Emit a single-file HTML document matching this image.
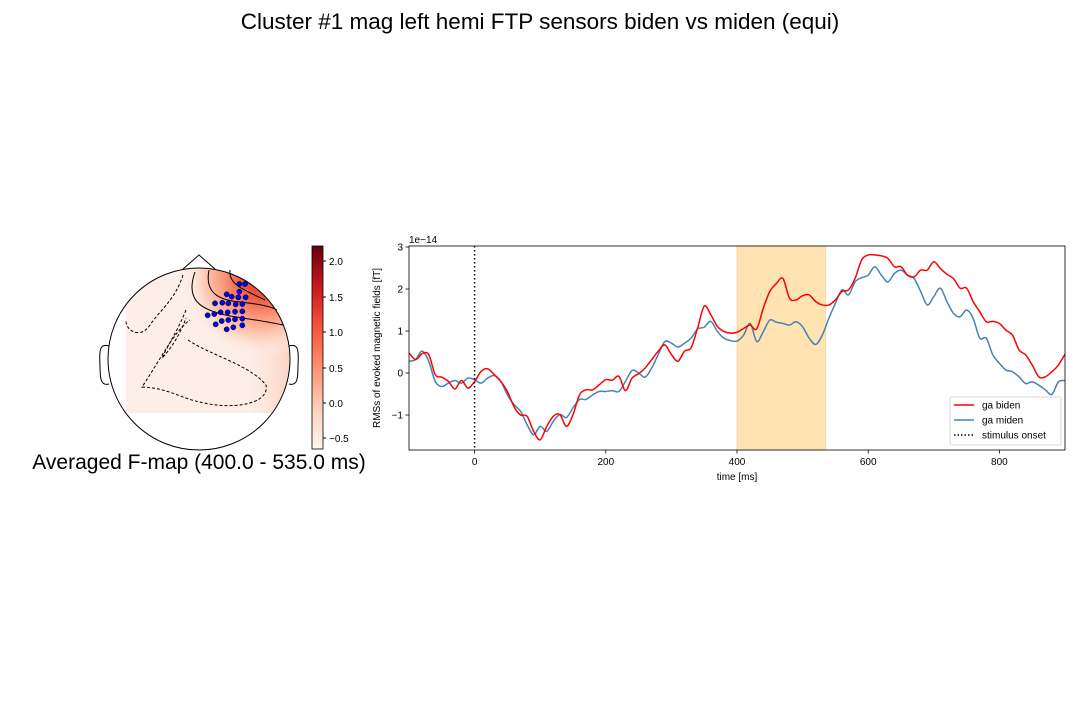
<!DOCTYPE html>
<html><head><meta charset="utf-8"><style>
body{margin:0;background:#fff;width:1080px;height:720px;overflow:hidden;font-family:"Liberation Sans","DejaVu Sans",sans-serif}
svg{position:absolute;left:0;top:0}
</style></head><body>
<svg width="1080" height="720" viewBox="0 0 1080 720">
<defs>
<clipPath id="headclip"><circle cx="199" cy="359" r="91"/></clipPath>
<radialGradient id="hot" cx="262" cy="278" r="80" gradientUnits="userSpaceOnUse">
<stop offset="0" stop-color="#e0302a"/><stop offset="0.25" stop-color="#f05a40"/><stop offset="0.5" stop-color="#fb9a7c"/><stop offset="0.75" stop-color="#fdd2bf"/><stop offset="1" stop-color="#fff1ea" stop-opacity="0"/>
</radialGradient>
<linearGradient id="side" x1="0" y1="0" x2="1" y2="0">
<stop offset="0" stop-color="#fdd5c4" stop-opacity="0"/><stop offset="1" stop-color="#fcc5ae" stop-opacity="0.8"/>
</linearGradient>
<linearGradient id="cbar" x1="0" y1="1" x2="0" y2="0">
<stop offset="0" stop-color="#fff5f0"/><stop offset="0.2" stop-color="#fdd0bc"/><stop offset="0.4" stop-color="#fc9272"/><stop offset="0.6" stop-color="#f6553c"/><stop offset="0.8" stop-color="#c9181d"/><stop offset="1" stop-color="#67000d"/>
</linearGradient>
<clipPath id="plotclip"><rect x="409" y="246" width="656" height="204"/></clipPath>
</defs>
<text x="540" y="29" font-size="22.5" text-anchor="middle" fill="#000">Cluster #1 mag left hemi FTP sensors biden vs miden (equi)</text>

<g>
<g clip-path="url(#headclip)">
<rect x="126" y="266" width="170" height="147" fill="#fdeee8"/>
<rect x="250" y="300" width="46" height="113" fill="url(#side)"/>
<rect x="126" y="266" width="170" height="147" fill="url(#hot)"/>
</g>
<path d="M209,270 C205,290 215,300 240,302 C258,304 270,306 277,310" fill="none" stroke="#000" stroke-width="1"/>
<path d="M195,272 C185,300 200,310 230,316 C255,320 270,322 283,325" fill="none" stroke="#000" stroke-width="1"/>
<path d="M230,270 C228,285 245,290 265,300" fill="none" stroke="#000" stroke-width="1"/>
<path d="M188,340 C210,355 250,365 266,385 C270,405 230,410 200,402 C180,398 168,388 142,387 C160,360 175,330 190,320" fill="none" stroke="#000" stroke-width="1" stroke-dasharray="3,2"/>
<path d="M183,275 C175,300 160,310 150,325 C140,340 125,330 126,320" fill="none" stroke="#000" stroke-width="1" stroke-dasharray="3,2"/>
<path d="M186,310 C178,330 168,345 162,358 C170,350 180,335 186,318" fill="none" stroke="#000" stroke-width="1" stroke-dasharray="3,2"/>
<circle cx="199" cy="359" r="91" fill="none" stroke="#000" stroke-width="1"/>
<path d="M183,269 L199,255 L215,269" fill="none" stroke="#000" stroke-width="1"/>
<path d="M109,346 C100,343 99,350 100,365 C100,380 101,386 109,384" fill="none" stroke="#000" stroke-width="1"/>
<path d="M289,346 C298,343 299,350 298,365 C298,380 297,386 289,384" fill="none" stroke="#000" stroke-width="1"/>
<g id="sensors"></g>
</g>

<g>
<rect x="312" y="246" width="11" height="203" fill="url(#cbar)" stroke="#000" stroke-width="0.8"/>
<g font-size="10" fill="#000">
<line x1="323" y1="261" x2="326" y2="261" stroke="#000"/><text x="329" y="265">2.0</text>
<line x1="323" y1="297" x2="326" y2="297" stroke="#000"/><text x="329" y="301">1.5</text>
<line x1="323" y1="332" x2="326" y2="332" stroke="#000"/><text x="329" y="336">1.0</text>
<line x1="323" y1="368" x2="326" y2="368" stroke="#000"/><text x="329" y="372">0.5</text>
<line x1="323" y1="403" x2="326" y2="403" stroke="#000"/><text x="329" y="407">0.0</text>
<line x1="323" y1="438" x2="326" y2="438" stroke="#000"/><text x="329" y="442">−0.5</text>
</g>
</g>
<text x="199" y="469" font-size="21" text-anchor="middle">Averaged F-map (400.0 - 535.0 ms)</text>

<g id="chart"></g>
</svg>
<script>
const times = [];
for (let t = -100; t <= 900; t += 10) times.push(t);
const biden = [0.48,0.32,0.46,0.44,-0.04,-0.1,-0.2,-0.38,-0.18,-0.36,-0.2,0.04,0.1,-0.04,-0.2,-0.44,-0.8,-1.0,-1.03,-1.39,-1.59,-1.27,-1.03,-0.99,-1.27,-0.99,-0.52,-0.4,-0.4,-0.28,-0.16,-0.17,-0.08,-0.42,-0.12,-0.02,0.12,0.32,0.52,0.67,0.44,0.28,0.52,0.6,1.07,1.59,1.39,1.11,0.99,0.95,0.97,1.06,1.14,1.05,1.54,1.94,2.13,2.25,1.78,1.74,1.84,1.86,1.7,1.62,1.62,1.74,1.94,1.98,2.25,2.69,2.81,2.81,2.79,2.73,2.53,2.53,2.33,2.29,2.45,2.45,2.65,2.49,2.35,2.25,2.02,2.02,1.7,1.46,1.22,1.23,1.18,1.02,0.9,0.55,0.43,0.19,-0.09,-0.09,0.03,0.19,0.45];
const miden = [0.28,0.32,0.52,0.28,-0.2,-0.32,-0.24,-0.18,-0.24,-0.12,-0.16,-0.24,-0.12,-0.06,-0.2,-0.52,-0.75,-0.91,-1.23,-1.47,-1.27,-1.39,-1.15,-0.99,-1.06,-0.83,-0.63,-0.63,-0.52,-0.44,-0.44,-0.42,-0.44,-0.2,0.06,0,-0.1,0.12,0.44,0.75,0.71,0.62,0.71,0.83,1.05,1.09,1.23,0.99,0.83,0.77,0.76,0.9,1.18,0.75,0.98,1.26,1.21,1.18,1.14,1.22,1.1,0.83,0.68,0.9,1.3,1.66,1.98,1.86,2.17,2.27,2.33,2.53,2.33,2.17,2.37,2.45,2.33,2.25,1.94,1.62,1.82,2.02,1.7,1.42,1.34,1.5,1.3,0.83,0.83,0.43,0.23,0.07,0.03,-0.09,-0.25,-0.21,-0.29,-0.4,-0.51,-0.21,-0.18];
const xTicks = [0,200,400,600,800];
const yTicks = [-1,0,1,2,3];
const windowRange = [400,535];
const onset = 0;
const sensorPts = [[433,132],[450,132],[433,155],[395,163],[410,170],[430,172],[452,172],[360,190],[382,188],[400,190],[422,193],[442,192],[338,226],[358,222],[377,217],[398,217],[420,215],[442,214],[362,253],[380,243],[400,240],[420,238],[442,236],[395,268],[415,262],[442,256]];

const NS='http://www.w3.org/2000/svg';
function mk(tag, attrs, parent){const e=document.createElementNS(NS,tag);for(const k in attrs)e.setAttribute(k,attrs[k]);parent.appendChild(e);return e;}
const X0=409, X1=1065, Y0=246, Y1=450;
const xs = t => X0 + (t + 100) / 1000 * (X1 - X0);
const ys = v => 373 - v * 42;

const sg = document.getElementById('sensors');
sensorPts.forEach(p=>{
  const c = mk('circle',{cx:95+p[0]/3,cy:240+p[1]/3,r:2.6,fill:'#0000ee',stroke:'#000','stroke-width':0.5},sg);
  
  
});

const g = document.getElementById('chart');
const span = mk('rect',{x:xs(windowRange[0]),y:Y0,width:xs(windowRange[1])-xs(windowRange[0]),height:Y1-Y0,fill:'#ffe3b3',stroke:'#f5cf8a','stroke-width':0.6},g);



function path(vals){
  const P = vals.map((v,i)=>[xs(times[i]),ys(v)]);
  let d='M'+P[0][0]+','+P[0][1];
  for(let i=0;i<P.length-1;i++){
    const p0=P[Math.max(0,i-1)],p1=P[i],p2=P[i+1],p3=P[Math.min(P.length-1,i+2)];
    const c1=[p1[0]+(p2[0]-p0[0])/6,p1[1]+(p2[1]-p0[1])/6];
    const c2=[p2[0]-(p3[0]-p1[0])/6,p2[1]-(p3[1]-p1[1])/6];
    d+=' C'+c1[0].toFixed(2)+','+c1[1].toFixed(2)+' '+c2[0].toFixed(2)+','+c2[1].toFixed(2)+' '+p2[0].toFixed(2)+','+p2[1].toFixed(2);
  }
  return d;
}
const lg = mk('g',{'clip-path':'url(#plotclip)'},g);
const ml = mk('path',{d:path(miden),fill:'none',stroke:'#4682b4','stroke-width':1.5},lg);


const bl = mk('path',{d:path(biden),fill:'none',stroke:'#ff0000','stroke-width':1.5},lg);


const on = mk('line',{x1:xs(onset),x2:xs(onset),y1:Y0,y2:Y1,stroke:'#000','stroke-width':1.5,'stroke-dasharray':'1.5,2.5'},g);



const frame = mk('rect',{x:X0,y:Y0,width:X1-X0,height:Y1-Y0,fill:'none',stroke:'#000','stroke-width':0.8},g);



xTicks.forEach(t=>{
  mk('line',{x1:xs(t),x2:xs(t),y1:Y1,y2:Y1+3.5,stroke:'#000','stroke-width':0.8},g);
  const tx = mk('text',{x:xs(t),y:Y1+15,'font-size':10,'text-anchor':'middle'},g);
  tx.textContent=t;
  
  
});
yTicks.forEach(v=>{
  mk('line',{x1:X0-3.5,x2:X0,y1:ys(v),y2:ys(v),stroke:'#000','stroke-width':0.8},g);
  const tx = mk('text',{x:X0-6,y:ys(v)+3.5,'font-size':10,'text-anchor':'end'},g);
  tx.textContent = v<0 ? '−'+(-v) : v;
  
  
});
const ex = mk('text',{x:409,y:243,'font-size':10},g);
ex.textContent='1e−14';


const xt = mk('text',{x:737,y:480,'font-size':10,'text-anchor':'middle'},g);
xt.textContent='time [ms]';


const yt = mk('text',{x:0,y:0,'font-size':10,'text-anchor':'middle',transform:'translate(380,348) rotate(-90)'},g);
yt.textContent='RMSs of evoked magnetic fields [fT]';



const leg = mk('g',{},g);


mk('rect',{x:950,y:397,width:111,height:48,rx:2,fill:'#fff','fill-opacity':0.85,stroke:'#ccc','stroke-width':0.8},leg);
const entries=[['ga biden','#ff0000',''],['ga miden','#4682b4',''],['stimulus onset','#000','1.5,2']];
entries.forEach((e,i)=>{
  const y=405+i*15;
  mk('line',{x1:954,x2:974,y1:y,y2:y,stroke:e[1],'stroke-width':1.5,'stroke-dasharray':e[2]||'none'},leg);
  const t=mk('text',{x:982,y:y+3.5,'font-size':10},leg);
  t.textContent=e[0];
  
  
});
</script>
</body></html>
